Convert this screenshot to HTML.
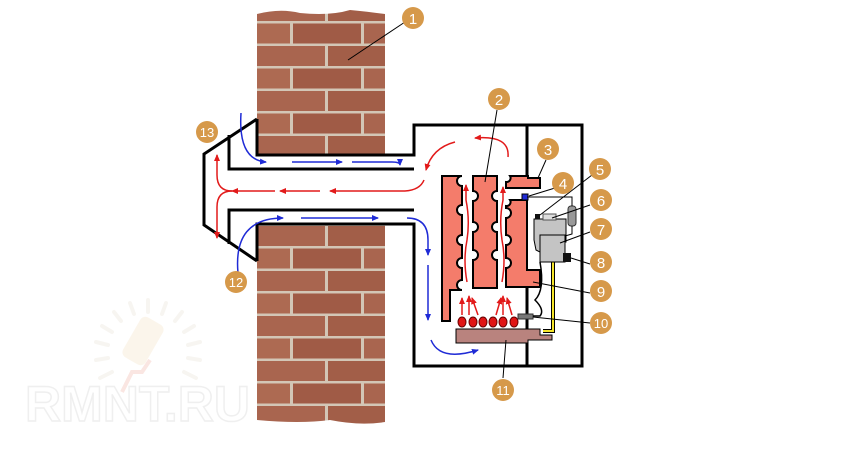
<!DOCTYPE html>
<html><head><meta charset="utf-8"><style>
html,body{margin:0;padding:0;background:#fff;width:850px;height:450px;overflow:hidden}
text{font-family:"Liberation Sans",sans-serif}
</style></head><body>
<svg width="850" height="450" viewBox="0 0 850 450" xmlns="http://www.w3.org/2000/svg">
<defs>
<pattern id="brick" x="257" y="0" width="140" height="45" patternUnits="userSpaceOnUse">
<rect width="140" height="45" fill="#d3c6b6"/>
<rect x="0" y="1" width="68" height="20" fill="#a9654f"/>
<rect x="71" y="1" width="68" height="20" fill="#a25e48"/>
<rect x="-35" y="23.5" width="68" height="20" fill="#ad6a52"/>
<rect x="36" y="23.5" width="68" height="20" fill="#a05b46"/>
<rect x="107" y="23.5" width="68" height="20" fill="#a9654f"/>
</pattern>
<marker id="ab" markerWidth="8" markerHeight="8" refX="6" refY="3" orient="auto" markerUnits="userSpaceOnUse"><path d="M0,0 L7,3 L0,6z" fill="#1f2bd6"/></marker>
<marker id="ar" markerWidth="8" markerHeight="8" refX="6" refY="3" orient="auto" markerUnits="userSpaceOnUse"><path d="M0,0 L7,3 L0,6z" fill="#e21a1a"/></marker>
</defs>

<!-- watermark -->
<g opacity="0.3">
<g stroke="#e6e0d4" stroke-width="4" stroke-linecap="round">
<path d="M148,300 L148,312 M130,303 L134,314 M166,303 L162,314 M114,312 L121,321 M182,312 L175,321 M102,326 L112,332 M194,326 L184,332 M96,342 L108,345 M200,342 L188,345 M96,360 L108,358 M200,360 L188,358 M100,378 L112,372 M196,378 L184,372"/>
</g>
<rect x="130" y="318" width="26" height="46" rx="6" fill="#f2dfbf" transform="rotate(30 143 341)"/>
<path d="M150,360 L142,372 L132,372 L122,392" stroke="#f0b0a0" stroke-width="4" fill="none"/>
<text x="25" y="421" font-size="50" font-weight="bold" fill="none" stroke="#ccc" stroke-width="1.5">RMNT.RU</text>
</g>

<!-- wall -->
<path d="M257,14 Q280,8 300,13 Q330,16 350,10 Q370,12 385,14 L385,422 Q360,426 330,420 Q300,424 257,420 Z" fill="url(#brick)"/>

<rect x="414" y="125" width="168" height="241" fill="#fff"/>
<path d="M257,155 L416,155 L416,224 L257,224 L257,261 L204,225 L204,154 L257,119 Z" fill="#fff"/>

<g fill="none" stroke="#000" stroke-width="3" stroke-linejoin="miter">
<path d="M257,119 L204,154 L204,225 L257,261"/>
<path d="M257,119 L257,155 L414,155 L414,125 L582,125 L582,366 L414,366 L414,224 L257,224 L257,261"/>
<path d="M229,135 L229,169 L414,169"/>
<path d="M229,244 L229,210 L414,210"/>
<path d="M527,125 L527,176"/>
<path d="M527,288 L527,366"/>
</g>

<g fill="#f47c6b" stroke="#000" stroke-width="2">
<path d="M442,176 L462,176 a4,4 0 0,0 0,10 L462,205 a4,4 0 0,0 0,10 L462,235 a4,4 0 0,0 0,10 L462,258 a4,4 0 0,0 0,10 L462,280 a4,4 0 0,0 0,10 L450,290 L450,321 L442,321 Z"/>
<path d="M473,176 L497,176 L497,191 a4,4 0 0,0 0,10 L497,222 a4,4 0 0,0 0,10 L497,250 a4,4 0 0,0 0,10 L497,288 L473,288 L473,260 a4,4 0 0,0 0,-10 L473,232 a4,4 0 0,0 0,-10 L473,201 a4,4 0 0,0 0,-10 Z"/>
<path d="M510,176 L528,176 L528,178 L540,178 L540,188 L506,188 L506,182 a4,4 0 0,0 4,-6 Z"/>
<path d="M506,206 a4,4 0 0,0 4,-6 L527,200 L527,270 L540,270 L540,287 L506,287 L506,268 a4,4 0 0,0 0,-10 L506,245 a4,4 0 0,0 0,-10 L506,218 a4,4 0 0,0 0,-10 Z"/>
</g>
<rect x="522" y="194" width="6" height="6" fill="#1f2bd6" stroke="#000"/>

<path d="M456,329 L540,329 L540,335 L552,335 L552,340 L528,340 L528,343 L456,343 Z" fill="#b9837e" stroke="#000" stroke-width="1"/>
<g fill="#e01515" stroke="#600" stroke-width="1">
<ellipse cx="462" cy="322" rx="4" ry="5"/><ellipse cx="473" cy="322" rx="4" ry="5"/><ellipse cx="483" cy="322" rx="4" ry="5"/><ellipse cx="493" cy="322" rx="4" ry="5"/><ellipse cx="503" cy="322" rx="4" ry="5"/><ellipse cx="514" cy="322" rx="4" ry="5"/>
</g>
<rect x="518" y="314" width="15" height="5" fill="#777" stroke="#333"/>

<path d="M553,262 L553,331 L543,331" fill="none" stroke="#000" stroke-width="4"/>
<path d="M553,262 L553,331 L543,331" fill="none" stroke="#f5e52a" stroke-width="2"/>
<path d="M534,219 L566,219 L566,242 L562,242 L562,262 L540,262 L540,252 L536,250 L534,240 Z" fill="#c4c4c4" stroke="#000" stroke-width="1"/>
<rect x="540" y="235" width="25" height="27" fill="#c4c4c4" stroke="#000" stroke-width="1"/>
<rect x="563" y="253" width="8" height="9" fill="#111"/>
<rect x="535" y="214" width="5" height="5" fill="#111"/>
<rect x="543" y="214" width="13" height="6" fill="#ddd" stroke="#555"/>
<rect x="568" y="206" width="8" height="20" rx="3" fill="#999" stroke="#333"/>
<path d="M527,197 L572,197 L572,206 M572,226 L572,234 L565,236" fill="none" stroke="#000" stroke-width="1"/>
<path d="M540,262 Q545,290 535,300 Q545,310 540,316 L533,316" fill="none" stroke="#000" stroke-width="1.5"/>

<g fill="none" stroke="#1f2bd6" stroke-width="1.5">
<path d="M241,113 Q238,160 266,162" marker-end="url(#ab)"/>
<path d="M292,162 L342,162" marker-end="url(#ab)"/>
<path d="M352,162 L392,162 Q400,162 400,165" marker-end="url(#ab)"/>
<path d="M238,273 Q233,218 283,218" marker-end="url(#ab)"/>
<path d="M301,218 L378,218" marker-end="url(#ab)"/>
<path d="M407,218 Q428,218 428,240 L428,255" marker-end="url(#ab)"/>
<path d="M428,265 L428,320" marker-end="url(#ab)"/>
<path d="M431,340 Q440,362 478,350" marker-end="url(#ab)"/>
</g>
<g fill="none" stroke="#e21a1a" stroke-width="1.5">
<path d="M508,157 Q510,135 475,138" marker-end="url(#ar)"/>
<path d="M455,142 Q432,148 426,170" marker-end="url(#ar)"/>
<path d="M424,180 Q420,190 405,191" />
<path d="M405,191 L330,191" marker-end="url(#ar)"/>
<path d="M320,191 L280,191" marker-end="url(#ar)"/>
<path d="M275,191 L232,191" marker-end="url(#ar)"/>
<path d="M232,191 Q217,191 217,175 L217,155" marker-end="url(#ar)"/>
<path d="M232,191 Q217,191 217,207 L217,238" marker-end="url(#ar)"/>
<path d="M462,315 L462,298" marker-end="url(#ar)"/>
<path d="M469,315 L469,296" marker-end="url(#ar)"/>
<path d="M478,315 L472,298" marker-end="url(#ar)"/>
<path d="M496,315 L501,298" marker-end="url(#ar)"/>
<path d="M503,315 L503,296" marker-end="url(#ar)"/>
<path d="M512,315 L507,298" marker-end="url(#ar)"/>
<path d="M467,282 Q463,260 467,240 Q470,220 466,200 L466,185" marker-end="url(#ar)"/>
<path d="M502,282 Q506,260 502,240 Q499,220 503,200 L503,187" marker-end="url(#ar)"/>
</g>

<g stroke="#000" stroke-width="1" fill="none">
<path d="M405,22 L348,60"/>
<path d="M497,110 L485,182"/>
<path d="M546,160 L538,178"/>
<path d="M555,188 L529,196"/>
<path d="M592,175 L540,215"/>
<path d="M590,205 L552,218"/>
<path d="M590,232 L560,243"/>
<path d="M590,264 L571,258"/>
<path d="M590,293 L533,282"/>
<path d="M590,323 L533,317"/>
<path d="M503,378 L506,340"/>
</g>

<g fill="#d6994a">
<circle cx="413" cy="18" r="11"/><circle cx="499" cy="99" r="11"/><circle cx="548" cy="149" r="11"/><circle cx="563" cy="183" r="11"/><circle cx="600" cy="169" r="11"/><circle cx="601" cy="200" r="11"/><circle cx="601" cy="229" r="11"/><circle cx="601" cy="262" r="11"/><circle cx="601" cy="291" r="11"/><circle cx="601" cy="323" r="11"/><circle cx="503" cy="390" r="11"/><circle cx="236" cy="282" r="11"/><circle cx="207" cy="132" r="11"/>
</g>
<g fill="#fff" font-size="15" text-anchor="middle">
<text x="413" y="24">1</text><text x="499" y="105">2</text><text x="548" y="155">3</text><text x="563" y="189">4</text><text x="600" y="175">5</text><text x="601" y="206">6</text><text x="601" y="235">7</text><text x="601" y="268">8</text><text x="601" y="297">9</text><text x="601" y="328" font-size="13">10</text><text x="503" y="395" font-size="13">11</text><text x="236" y="287" font-size="13">12</text><text x="207" y="137" font-size="13">13</text>
</g>
</svg>
</body></html>
